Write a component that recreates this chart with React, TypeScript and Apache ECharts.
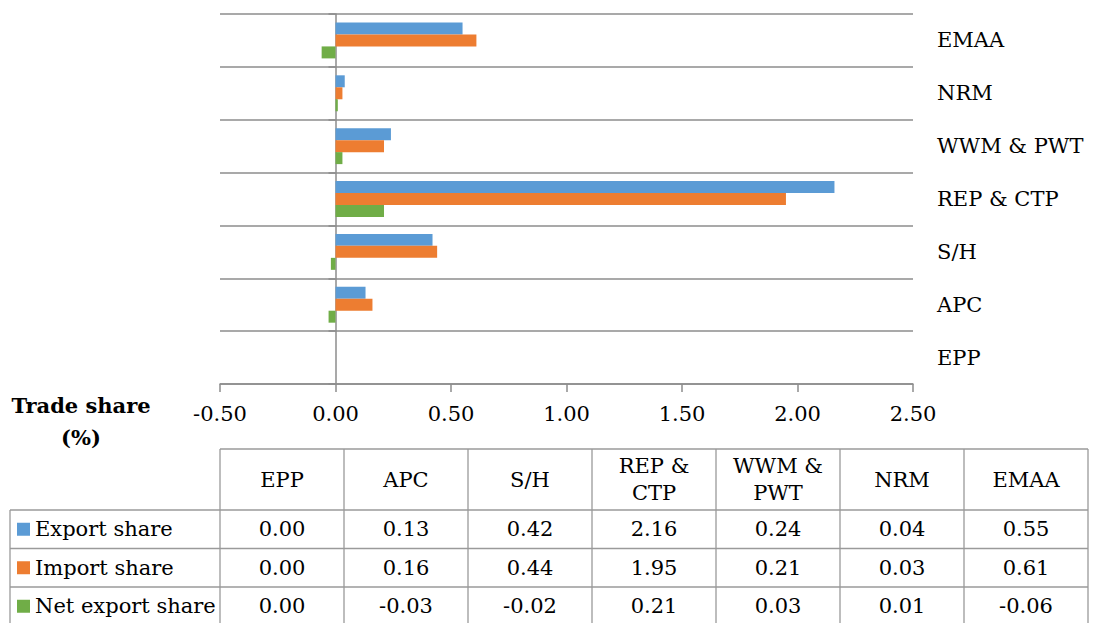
import React, { useEffect, useRef } from "react";
import * as echarts from "echarts";

const categories = ["EPP", "APC", "S/H", "REP & CTP", "WWM & PWT", "NRM", "EMAA"];
const tableHeaders = ["EPP", "APC", "S/H", "REP &\nCTP", "WWM &\nPWT", "NRM", "EMAA"];
const seriesNames = ["Export share", "Import share", "Net export share"];
const exportShare = [0.0, 0.13, 0.42, 2.16, 0.24, 0.04, 0.55];
const importShare = [0.0, 0.16, 0.44, 1.95, 0.21, 0.03, 0.61];
const netExportShare = [0.0, -0.03, -0.02, 0.21, 0.03, 0.01, -0.06];
const axisTitle = "Trade share\n(%)";
const colors = ["#5B9BD5", "#ED7D31", "#70AD47"];

const FONT = "DejaVu Serif";
const FS = 21;
const GRID = "#8c8c8c";

function buildTable(): any[] {
  const els: any[] = [];
  const left0 = 10;
  const left = 220;
  const colW = 124;
  const nCols = tableHeaders.length;
  const right = left + colW * nCols;
  const headTop = 449;
  const headBottom = 510;
  const rowH = 38.5;
  const rows = [exportShare, importShare, netExportShare];
  const bottom = headBottom + rowH * rows.length;
  const ls = { stroke: "#9a9a9a", lineWidth: 1.3 };
  els.push({ type: "line", shape: { x1: left, y1: headTop, x2: right, y2: headTop }, style: ls, silent: true });
  for (let r = 0; r <= rows.length; r++) {
    const y = headBottom + rowH * r;
    els.push({ type: "line", shape: { x1: left0, y1: y, x2: right, y2: y }, style: ls, silent: true });
  }
  els.push({ type: "line", shape: { x1: left0, y1: headBottom, x2: left0, y2: bottom }, style: ls, silent: true });
  for (let c = 0; c <= nCols; c++) {
    const x = left + colW * c;
    els.push({ type: "line", shape: { x1: x, y1: headTop, x2: x, y2: bottom }, style: ls, silent: true });
  }
  tableHeaders.forEach((h, c) => {
    els.push({
      type: "text",
      x: left + colW * c + colW / 2,
      y: (headTop + headBottom) / 2,
      style: { text: h, fontSize: FS, fontFamily: FONT, fill: "#000", align: "center", verticalAlign: "middle", lineHeight: 27 },
      silent: true,
    });
  });
  rows.forEach((vals, r) => {
    const cy = headBottom + rowH * r + rowH / 2;
    els.push({ type: "rect", shape: { x: 17, y: cy - 6.5, width: 13, height: 13 }, style: { fill: colors[r] }, silent: true });
    els.push({
      type: "text",
      x: 35,
      y: cy,
      style: { text: seriesNames[r], fontSize: FS, fontFamily: FONT, fill: "#000", align: "left", verticalAlign: "middle" },
      silent: true,
    });
    vals.forEach((v, c) => {
      els.push({
        type: "text",
        x: left + colW * c + colW / 2,
        y: cy,
        style: { text: v.toFixed(2), fontSize: FS, fontFamily: FONT, fill: "#000", align: "center", verticalAlign: "middle" },
        silent: true,
      });
    });
  });
  els.push({
    type: "text",
    x: 81,
    y: 421,
    style: { text: axisTitle, fontSize: FS, fontWeight: "bold", fontFamily: FONT, fill: "#000", align: "center", verticalAlign: "middle", lineHeight: 32 },
    silent: true,
  });
  return els;
}

export default function App() {
  const ref = useRef<HTMLDivElement>(null);
  useEffect(() => {
    if (!ref.current) return;
    const chart = echarts.init(ref.current, undefined, { renderer: "svg" });
    const seriesData = [exportShare, importShare, netExportShare];
    chart.setOption({
      animation: false,
      backgroundColor: "#fff",
      textStyle: { fontFamily: FONT },
      grid: { left: 220, right: 192, top: 14, bottom: 239, containLabel: false },
      xAxis: {
        type: "value",
        min: -0.5,
        max: 2.5,
        interval: 0.5,
        axisLine: { show: true, onZero: false, lineStyle: { color: GRID, width: 1.5 } },
        axisTick: { show: true, length: 8, lineStyle: { color: GRID, width: 1.5 } },
        splitLine: { show: false },
        axisLabel: {
          margin: 19,
          fontSize: FS,
          fontFamily: FONT,
          color: "#000",
          formatter: (v: number) => v.toFixed(2),
        },
      },
      yAxis: [
        {
          type: "category",
          data: categories,
          position: "left",
          axisLine: { show: true, onZero: true, lineStyle: { color: GRID, width: 1.5 } },
          axisTick: { show: true, length: 7, lineStyle: { color: GRID, width: 1.5 } },
          axisLabel: { show: false },
          splitLine: { show: true, lineStyle: { color: GRID, width: 1.5 } },
        },
        {
          type: "category",
          data: categories,
          position: "right",
          axisLine: { show: false, onZero: false },
          axisTick: { show: false },
          splitLine: { show: false },
          axisLabel: { margin: 24, fontSize: FS, fontFamily: FONT, color: "#000" },
        },
      ],
      series: seriesData.map((d, i) => ({
        name: seriesNames[i],
        type: "bar",
        yAxisIndex: 0,
        data: d,
        barGap: "0%",
        barCategoryGap: "32%",
        itemStyle: { color: colors[i] },
      })),
      graphic: buildTable(),
    });
    return () => chart.dispose();
  }, []);
  return <div ref={ref} style={{ position: "fixed", left: 0, top: 0, width: 1105, height: 623 }} />;
}
